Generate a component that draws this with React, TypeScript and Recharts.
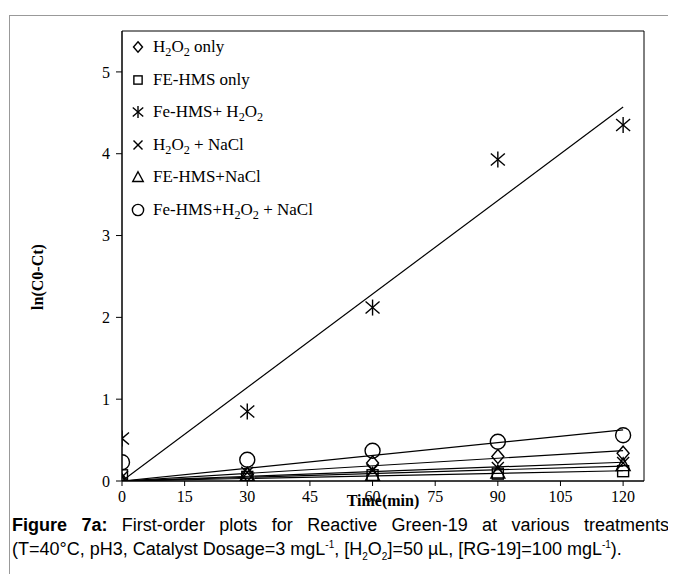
import React from 'react';
import { ScatterChart, Scatter, XAxis, YAxis, ReferenceArea } from 'recharts';

// Sampling times (min)
const times = [0, 30, 60, 90, 120];

// ln(C0-Ct) for each treatment
const h2o2Only = [0.0, 0.08, 0.22, 0.3, 0.34];
const feHmsOnly = [0.07, 0.05, 0.07, 0.09, 0.12];
const feHmsH2o2 = [0.52, 0.85, 2.12, 3.93, 4.35];
const h2o2NaCl = [0.05, 0.1, 0.13, 0.16, 0.22];
const feHmsNaCl = [0.0, 0.08, 0.08, 0.11, 0.2];
const feHmsH2o2NaCl = [0.23, 0.26, 0.37, 0.48, 0.56];

const xTicks = [0, 15, 30, 45, 60, 75, 90, 105, 120];
const yTicks = [0, 1, 2, 3, 4, 5];

const SERIF = '"Liberation Serif", "Times New Roman", serif';
const SANS = '"Liberation Sans", Arial, sans-serif';

type MarkerKind = 'diamond' | 'square' | 'asterisk' | 'cross' | 'triangle' | 'circle';

function Marker({ kind, cx, cy, s = 1 }: { kind: MarkerKind; cx: number; cy: number; s?: number }) {
  const st = { fill: 'none', stroke: '#000', strokeWidth: 1.4 };
  switch (kind) {
    case 'diamond':
      return <polygon {...st} points={`${cx},${cy - 7 * s} ${cx + 6 * s},${cy} ${cx},${cy + 7 * s} ${cx - 6 * s},${cy}`} />;
    case 'square':
      return <rect {...st} x={cx - 5.5 * s} y={cy - 5.5 * s} width={11 * s} height={11 * s} />;
    case 'asterisk':
      return (
        <g {...st}>
          <line x1={cx} y1={cy - 8 * s} x2={cx} y2={cy + 8 * s} />
          <line x1={cx - 7 * s} y1={cy - 6 * s} x2={cx + 7 * s} y2={cy + 6 * s} />
          <line x1={cx - 7 * s} y1={cy + 6 * s} x2={cx + 7 * s} y2={cy - 6 * s} />
        </g>
      );
    case 'cross':
      return (
        <g {...st}>
          <line x1={cx - 6 * s} y1={cy - 6 * s} x2={cx + 6 * s} y2={cy + 6 * s} />
          <line x1={cx - 6 * s} y1={cy + 6 * s} x2={cx + 6 * s} y2={cy - 6 * s} />
        </g>
      );
    case 'triangle':
      return <polygon {...st} points={`${cx},${cy - 7 * s} ${cx + 7 * s},${cy + 6 * s} ${cx - 7 * s},${cy + 6 * s}`} />;
    default:
      return <circle {...st} cx={cx} cy={cy} r={7.5 * s} />;
  }
}

const subStyle = { fontSize: '0.72em', lineHeight: 0 };

const H2O2 = () => (
  <>
    H<sub style={subStyle}>2</sub>O<sub style={subStyle}>2</sub>
  </>
);

const series: { name: string; values: number[]; kind: MarkerKind; label: React.ReactNode }[] = [
  { name: 'h2o2Only', values: h2o2Only, kind: 'diamond', label: <><H2O2 /> only</> },
  { name: 'feHmsOnly', values: feHmsOnly, kind: 'square', label: <>FE-HMS only</> },
  { name: 'feHmsH2o2', values: feHmsH2o2, kind: 'asterisk', label: <>Fe-HMS+ <H2O2 /></> },
  { name: 'h2o2NaCl', values: h2o2NaCl, kind: 'cross', label: <><H2O2 /> + NaCl</> },
  { name: 'feHmsNaCl', values: feHmsNaCl, kind: 'triangle', label: <>FE-HMS+NaCl</> },
  { name: 'feHmsH2o2NaCl', values: feHmsH2o2NaCl, kind: 'circle', label: <>Fe-HMS+<H2O2 /> + NaCl</> },
];

// Least-squares line forced through the origin: slope = Σ t·y / Σ t²
function trend(values: number[]) {
  let num = 0;
  let den = 0;
  times.forEach((t, i) => {
    num += t * values[i];
    den += t * t;
  });
  const k = num / den;
  const tEnd = times[times.length - 1];
  return [
    { t: 0, y: 0 },
    { t: tEnd, y: k * tEnd },
  ];
}

const points = (values: number[]) => times.map((t, i) => ({ t, y: values[i] }));

const supStyle = { fontSize: 10, lineHeight: 0 };

export default function App() {
  return (
    <div style={{ position: 'relative', width: 668, height: 566, overflow: 'hidden', background: '#fff' }}>
      <div
        style={{
          position: 'absolute',
          left: 1,
          top: 7,
          width: 700,
          height: 600,
          borderLeft: '1px solid #999',
          borderTop: '1px solid #999',
        }}
      />
      <div style={{ position: 'absolute', left: 0, top: 0 }}>
        <ScatterChart width={660} height={510} margin={{ top: 23, right: 24, left: 0, bottom: 7 }}>
          <XAxis
            type="number"
            dataKey="t"
            domain={[0, 125]}
            ticks={xTicks}
            allowDataOverflow
            stroke="#000"
            tickSize={5}
            tickMargin={5}
            height={30}
            tick={{ fill: '#000', fontSize: 16, fontFamily: SERIF }}
            label={{
              content: (p: any) => {
                const vb = p.viewBox;
                return (
                  <text
                    x={vb.x + vb.width / 2}
                    y={vb.y + 25}
                    textAnchor="middle"
                    fontFamily={SERIF}
                    fontSize={16}
                    fontWeight="bold"
                    fill="#000"
                  >
                    Time(min)
                  </text>
                );
              },
            }}
          />
          <YAxis
            type="number"
            dataKey="y"
            domain={[0, 5.5]}
            ticks={yTicks}
            allowDataOverflow
            width={114}
            stroke="#000"
            tickSize={6}
            tickMargin={6}
            tick={{ fill: '#000', fontSize: 16, fontFamily: SERIF }}
            label={{
              content: (p: any) => {
                const vb = p.viewBox;
                const x = 29;
                const y = vb.y + vb.height / 2 + 21;
                return (
                  <text
                    x={x}
                    y={y}
                    transform={`rotate(-90 ${x} ${y})`}
                    textAnchor="middle"
                    dominantBaseline="central"
                    fontFamily={SERIF}
                    fontSize={16}
                    fontWeight="bold"
                    fill="#000"
                  >
                    ln(C0-Ct)
                  </text>
                );
              },
            }}
          />
          <ReferenceArea x1={0} x2={125} y1={0} y2={5.5} fill="none" stroke="#000" strokeWidth={1} ifOverflow="visible" />
          {series.map((s) => (
            <Scatter
              key={s.name + '-fit'}
              name={s.name + '-fit'}
              data={trend(s.values)}
              line={{ stroke: '#000', strokeWidth: 1.2 }}
              shape={() => <g />}
              isAnimationActive={false}
            />
          ))}
          {series.map((s) => (
            <Scatter
              key={s.name}
              name={s.name}
              data={points(s.values)}
              shape={(p: any) => <Marker kind={s.kind} cx={p.cx} cy={p.cy} />}
              isAnimationActive={false}
            />
          ))}
        </ScatterChart>
      </div>
      {/* Legend */}
      <div style={{ position: 'absolute', left: 122, top: 23, fontFamily: SERIF, fontSize: 17, color: '#000' }}>
        {series.map((s) => (
          <div key={s.name} style={{ display: 'flex', alignItems: 'center', height: 32.5 }}>
            <svg width={16} height={16} style={{ marginRight: 7 }}>
              <Marker kind={s.kind} cx={8} cy={8} s={0.75} />
            </svg>
            <span style={{ lineHeight: '18px' }}>{s.label}</span>
          </div>
        ))}
      </div>
      {/* Caption */}
      <div
        style={{
          position: 'absolute',
          left: 4,
          top: 505,
          width: 657,
          fontFamily: SANS,
          fontSize: 18,
          lineHeight: '24px',
          color: '#000',
        }}
      >
        <div style={{ textAlign: 'justify', textAlignLast: 'justify', whiteSpace: 'nowrap' }}>
          <b>Figure 7a:</b> First-order plots for Reactive Green-19 at various treatments
        </div>
        <div style={{ whiteSpace: 'nowrap' }}>
          (T=40°C, pH3, Catalyst Dosage=3 mgL<sup style={supStyle}>-1</sup>, [H<sub style={supStyle}>2</sub>O
          <sub style={supStyle}>2</sub>]=50 µL, [RG-19]=100 mgL<sup style={supStyle}>-1</sup>).
        </div>
      </div>
    </div>
  );
}
